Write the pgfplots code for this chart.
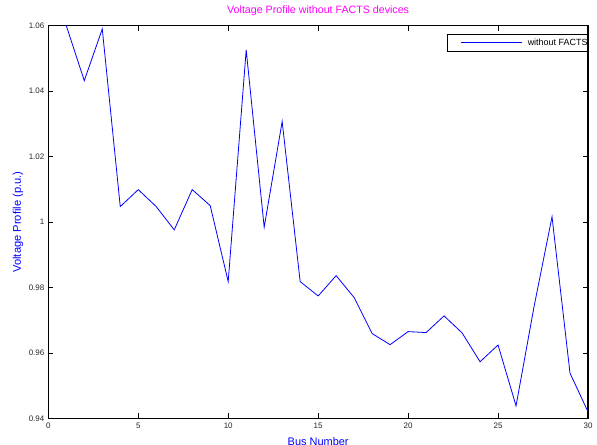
\documentclass[border=0pt]{standalone}
\usepackage{pgfplots}
\pgfplotsset{compat=1.18}
\usepackage{fontspec}
\setmainfont{Liberation Sans}
\begin{document}
\begin{tikzpicture}
\begin{axis}[
  name=ax,
  scale only axis,
  width=539.7bp, height=392.6bp,
  xmin=0, xmax=30, ymin=0.94, ymax=1.06,
  xtick={0,5,10,15,20,25,30},
  ytick={0.94,0.96,0.98,1,1.02,1.04,1.06},
  yticklabels={0.94,0.96,0.98,1,1.02,1.04,1.06},
  tick align=inside,
  major tick length=5bp,
  tick style={black, line width=0.6bp},
  axis line style={black, line width=1.2bp},
  /pgf/number format/assume math mode=true,
  tick label style={font=\fontsize{8}{9.6}\selectfont, text=black!85},
  xticklabel style={yshift=-1.5bp},
  yticklabel style={xshift=-0.5bp},
  title={Voltage Profile without FACTS devices},
  title style={font=\fontsize{10.7}{12}\selectfont, text={rgb,255:red,255;green,0;blue,255}, at={(axis description cs:0.5,1)}, anchor=base, yshift=6.4bp},
  xlabel={Bus Number},
  xlabel style={font=\fontsize{11}{12}\selectfont, text=blue, at={(axis description cs:0.5,0)}, anchor=base, yshift=-27.5bp},
  ylabel={Voltage Profile (p.u.)},
  ylabel style={font=\fontsize{11.2}{12}\selectfont, text=blue, at={(axis description cs:-0.0561,0.5)}, anchor=center},
  legend style={at={(axis description cs:1,1)}, anchor=north east, yshift=-8.3bp, line width=0.9bp, font=\fontsize{9}{10}\selectfont, inner xsep=0bp, inner ysep=3.5bp, nodes={inner xsep=0bp, inner ysep=1bp}},
  legend image code/.code={\path (0bp,0bp) (80bp,0bp); \draw[draw=blue, line width=1bp] (13.4bp,0bp) -- (74.4bp,0bp);},
]
\addplot[blue, line width=0.8bp] coordinates {
(1,1.0600) (2,1.0432) (3,1.0590) (4,1.0047) (5,1.0099) (6,1.0047)
(7,0.9976) (8,1.0099) (9,1.0050) (10,0.9818) (11,1.0526) (12,0.9984)
(13,1.0307) (14,0.9818) (15,0.9774) (16,0.9836) (17,0.9769) (18,0.9659)
(19,0.9625) (20,0.9665) (21,0.9662) (22,0.9713) (23,0.9661) (24,0.9573)
(25,0.9624) (26,0.9438) (27,0.9741) (28,1.0016) (29,0.9538) (30,0.9420)
};
\addlegendentry{without FACTS}
\end{axis}
\pgfresetboundingbox
\path[use as bounding box] ([xshift=-48.3bp,yshift=-26.7bp]ax.south west) rectangle ([xshift=9bp,yshift=25.7bp]ax.north east);
\end{tikzpicture}
\end{document}
